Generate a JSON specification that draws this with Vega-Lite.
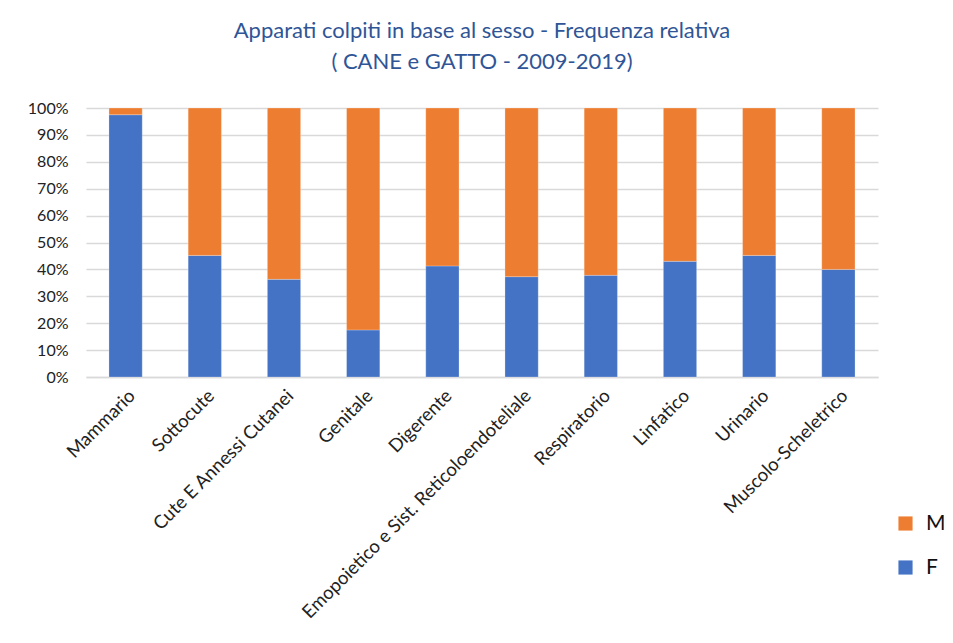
{
  "$schema": "https://vega.github.io/schema/vega-lite/v6.json",
  "autosize": "none",
  "width": 792,
  "height": 269,
  "padding": {"left": 86, "top": 108, "right": 75, "bottom": 266},
  "background": "white",
  "title": {
    "text": ["Apparati colpiti in base al sesso - Frequenza relativa", "( CANE e GATTO - 2009-2019)"],
    "font": "Lato",
    "fontSize": 22,
    "fontWeight": "normal",
    "color": "#2f5597",
    "anchor": "middle",
    "offset": 26,
    "lineHeight": 31
  },
  "data": {
    "values": [
      {"apparato": "Mammario", "sesso": "F", "freq": 0.975},
      {"apparato": "Mammario", "sesso": "M", "freq": 0.025},
      {"apparato": "Sottocute", "sesso": "F", "freq": 0.452},
      {"apparato": "Sottocute", "sesso": "M", "freq": 0.548},
      {"apparato": "Cute E Annessi Cutanei", "sesso": "F", "freq": 0.363},
      {"apparato": "Cute E Annessi Cutanei", "sesso": "M", "freq": 0.637},
      {"apparato": "Genitale", "sesso": "F", "freq": 0.175},
      {"apparato": "Genitale", "sesso": "M", "freq": 0.825},
      {"apparato": "Digerente", "sesso": "F", "freq": 0.413},
      {"apparato": "Digerente", "sesso": "M", "freq": 0.587},
      {"apparato": "Emopoietico e Sist. Reticoloendoteliale", "sesso": "F", "freq": 0.373},
      {"apparato": "Emopoietico e Sist. Reticoloendoteliale", "sesso": "M", "freq": 0.627},
      {"apparato": "Respiratorio", "sesso": "F", "freq": 0.378},
      {"apparato": "Respiratorio", "sesso": "M", "freq": 0.622},
      {"apparato": "Linfatico", "sesso": "F", "freq": 0.43},
      {"apparato": "Linfatico", "sesso": "M", "freq": 0.57},
      {"apparato": "Urinario", "sesso": "F", "freq": 0.452},
      {"apparato": "Urinario", "sesso": "M", "freq": 0.548},
      {"apparato": "Muscolo-Scheletrico", "sesso": "F", "freq": 0.40},
      {"apparato": "Muscolo-Scheletrico", "sesso": "M", "freq": 0.60}
    ]
  },
  "mark": {"type": "bar", "stroke": "white", "strokeWidth": 0.5, "strokeOpacity": 0.5},
  "encoding": {
    "x": {
      "field": "apparato",
      "type": "nominal",
      "sort": null,
      "scale": {"paddingInner": 0.58, "paddingOuter": 0.29},
      "axis": {
        "title": null,
        "labelAngle": -45,
        "labelFont": "Lato",
        "labelFontSize": 18.5,
        "labelColor": "#222222",
        "ticks": false,
        "domainColor": "#d9d9d9",
        "domainWidth": 1.5,
        "labelPadding": 9,
        "labelLimit": 500
      }
    },
    "y": {
      "field": "freq",
      "type": "quantitative",
      "stack": "zero",
      "scale": {"domain": [0, 1], "nice": false},
      "axis": {
        "title": null,
        "format": ".0%",
        "values": [0, 0.1, 0.2, 0.3, 0.4, 0.5, 0.6, 0.7, 0.8, 0.9, 1],
        "labelFont": "Lato",
        "labelFontSize": 16,
        "labelColor": "#222222",
        "ticks": false,
        "domain": false,
        "gridColor": "#d9d9d9",
        "gridWidth": 1.5,
        "labelPadding": 18
      }
    },
    "color": {
      "field": "sesso",
      "type": "nominal",
      "scale": {"domain": ["M", "F"], "range": ["#ed7d31", "#4472c4"]},
      "legend": {
        "title": null,
        "orient": "none",
        "legendX": 809,
        "legendY": 405,
        "symbolType": "square",
        "symbolSize": 200,
        "symbolStrokeWidth": 0,
        "labelFont": "Lato",
        "labelFontSize": 21,
        "labelColor": "#111111",
        "rowPadding": 22,
        "labelOffset": 10
      }
    },
    "order": {"field": "sesso", "sort": "ascending"}
  },
  "config": {"view": {"stroke": null}}
}
